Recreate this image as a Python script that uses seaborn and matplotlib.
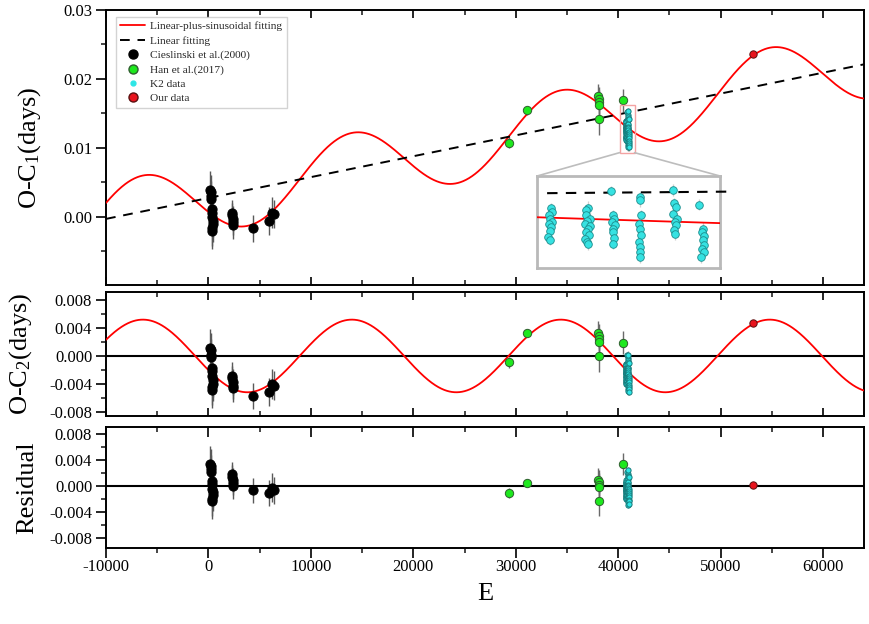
import numpy as np
import pandas as pd
import matplotlib
matplotlib.use("Agg")
import matplotlib.pyplot as plt
import seaborn as sns
from matplotlib.ticker import MultipleLocator, FormatStrFormatter
from matplotlib.patches import Rectangle, ConnectionPatch
from matplotlib.lines import Line2D, TICKDOWN

# ---------------- observed O-C1 timings (cycle E, O-C1 [d], 1-sigma error [d]) ----------------
ciesl_E = [200, 230, 260, 290, 320, 350, 380, 410, 440, 300, 340,
           2300, 2330, 2360, 2390, 2420,
           4350,
           5950, 6250, 6400]
ciesl_oc = [0.0039, 0.0036, 0.0030, 0.0026, 0.0011, 0.0006, -0.0001, -0.0006, -0.0011, -0.0016, -0.0020,
            0.0006, 0.0002, -0.0003, -0.0008, -0.0012,
            -0.0017,
            -0.0006, 0.0006, 0.0004]
ciesl_err = [0.0028, 0.0025, 0.0022, 0.0020, 0.0020, 0.0021, 0.0022, 0.0024, 0.0025, 0.0026, 0.0027,
             0.0019, 0.0018, 0.0018, 0.0019, 0.0020,
             0.0019,
             0.0020, 0.0022, 0.0021]

han_E = [29390, 31120, 38060, 38120, 38150, 38180, 38100, 40430]
han_oc = [0.01073, 0.01543, 0.01747, 0.01713, 0.01664, 0.01626, 0.01422, 0.01689]
han_err = [0.0008, 0.0006, 0.0018, 0.0017, 0.0017, 0.0018, 0.0023, 0.0017]

k2_E = [40730, 40732, 40726, 40729, 40733, 40727, 40731, 40728, 40725, 40729,
        40812, 40808, 40806, 40815, 40810, 40804, 40816, 40811, 40807, 40813, 40805, 40809, 40812,
        40862, 40866, 40868, 40864, 40870, 40866, 40867, 40869, 40865,
        40926, 40924, 40927, 40922, 40925, 40928, 40923, 40926, 40924, 40925,
        40998, 41000, 41003, 40998, 41005, 41001, 41004, 40999, 41002,
        41054, 41063, 41060, 41066, 41062, 41065, 41061, 41064, 41059]
k2_oc = [0.01386, 0.01360, 0.01333, 0.01307, 0.01281, 0.01262, 0.01241, 0.01210, 0.01163, 0.01137,
         0.01393, 0.01372, 0.01333, 0.01307, 0.01289, 0.01268, 0.01247, 0.01228, 0.01202, 0.01176, 0.01150, 0.01124, 0.01111,
         0.01522, 0.01333, 0.01307, 0.01281, 0.01255, 0.01228, 0.01202, 0.01158, 0.01105,
         0.01477, 0.01451, 0.01333, 0.01268, 0.01228, 0.01176, 0.01124, 0.01084, 0.01045, 0.01006,
         0.01530, 0.01425, 0.01399, 0.01346, 0.01307, 0.01281, 0.01255, 0.01215, 0.01189,
         0.01417, 0.01228, 0.01202, 0.01168, 0.01137, 0.01103, 0.01071, 0.01045, 0.01006]
k2_err = [0.0004, 0.0005, 0.0004, 0.0003, 0.0004, 0.0005, 0.0004, 0.0004, 0.0005, 0.0004,
          0.0005, 0.0004, 0.0004, 0.0005, 0.0003, 0.0004, 0.0004, 0.0005, 0.0004, 0.0004, 0.0005, 0.0004, 0.0005,
          0.0004, 0.0004, 0.0005, 0.0004, 0.0004, 0.0003, 0.0004, 0.0005, 0.0004,
          0.0004, 0.0005, 0.0004, 0.0004, 0.0005, 0.0004, 0.0004, 0.0005, 0.0004, 0.0005,
          0.0005, 0.0004, 0.0004, 0.0005, 0.0004, 0.0004, 0.0003, 0.0004, 0.0005,
          0.0004, 0.0005, 0.0004, 0.0004, 0.0005, 0.0004, 0.0005, 0.0004, 0.0005]

ours_E = [53170]
ours_oc = [0.02358]
ours_err = [0.0002]

# ---------------- fitted ephemeris terms ----------------
lin_c0, lin_c1 = 0.00272, 3.03e-7                         # linear term (days, days/cycle)
sin_amp, sin_per, sin_peak = 0.0052, 20400.0, 14000.0     # cyclic term


def linear(E):
    return lin_c0 + lin_c1 * np.asarray(E, dtype=float)


def cyclic(E):
    return sin_amp * np.cos(2 * np.pi * (np.asarray(E, dtype=float) - sin_peak) / sin_per)


def table(E, oc, err, source):
    d = pd.DataFrame({"E": E, "oc1": oc, "err": err})
    d["source"] = source
    d["oc2"] = d["oc1"] - linear(d["E"])
    d["res"] = d["oc2"] - cyclic(d["E"])
    return d


data = pd.concat([
    table(ciesl_E, ciesl_oc, ciesl_err, "Cieslinski et al.(2000)"),
    table(han_E, han_oc, han_err, "Han et al.(2017)"),
    table(k2_E, k2_oc, k2_err, "K2 data"),
    table(ours_E, ours_oc, ours_err, "Our data"),
], ignore_index=True)

styles = {
    "Cieslinski et al.(2000)": dict(color="black", edgecolor="black", s=44, ecolor="#5a5a5a"),
    "Han et al.(2017)": dict(color="#1ee81e", edgecolor="#2f5f2f", s=36, ecolor="#6a6a6a"),
    "K2 data": dict(color="#2ee6e6", edgecolor="#177a7a", s=14, ecolor="#9a9a9a"),
    "Our data": dict(color="#e8141e", edgecolor="#5a1010", s=28, ecolor="#6a6a6a"),
}

# ---------------- style ----------------
sns.set_theme(style="ticks")
plt.rcParams["font.family"] = ["Liberation Serif", "DejaVu Serif"]
plt.rcParams["axes.unicode_minus"] = False
plt.rcParams["mathtext.fontset"] = "custom"
plt.rcParams["mathtext.rm"] = "Liberation Serif"
plt.rcParams["mathtext.it"] = "Liberation Serif"

fig = plt.figure(figsize=(8.69, 6.24), dpi=100)
L, W = 0.122, 0.8722
ax1 = fig.add_axes([L, 0.5433, W, 0.4407])
ax2 = fig.add_axes([L, 0.3333, W, 0.1987])
ax3 = fig.add_axes([L, 0.1218, W, 0.1939])

grid = np.linspace(-10000, 64000, 1500)

for ax, col in [(ax1, "oc1"), (ax2, "oc2"), (ax3, "res")]:
    for src, st in styles.items():
        d = data[data["source"] == src]
        ax.errorbar(d["E"], d[col], yerr=d["err"], fmt="none", ecolor=st["ecolor"],
                    elinewidth=1.0, capsize=0, zorder=2)
    for src, st in styles.items():
        d = data[data["source"] == src]
        sns.scatterplot(data=d, x="E", y=col, ax=ax, color=st["color"], edgecolor=st["edgecolor"],
                        s=st["s"], linewidth=0.7, zorder=4, legend=False)

# fitted curves
sns.lineplot(x=grid, y=linear(grid) + cyclic(grid), ax=ax1, color="#ff0000", lw=1.3,
             estimator=None, zorder=3)
sns.lineplot(x=grid, y=linear(grid), ax=ax1, color="black", lw=1.4, estimator=None, zorder=3,
             linestyle=(0, (5, 4)))
sns.lineplot(x=grid, y=cyclic(grid), ax=ax2, color="#ff0000", lw=1.3, estimator=None, zorder=3)
ax2.axhline(0, color="black", lw=1.5, zorder=2.5)
ax3.axhline(0, color="black", lw=1.5, zorder=2.5)

# axes cosmetics
ylims = [(-0.0099, 0.0300), (-0.0086, 0.00915), (-0.0095, 0.0091)]
ymaj = [0.01, 0.004, 0.004]
ymin = [0.005, 0.002, 0.002]
yfmt = ["%.2f", "%.3f", "%.3f"]
ylabels = [r"O-C$_1$(days)", r"O-C$_2$(days)", "Residual"]
ylab_x = [-0.083, -0.095, -0.090]
for ax, yl, mj, mn, fm, lab, lx in zip([ax1, ax2, ax3], ylims, ymaj, ymin, yfmt, ylabels, ylab_x):
    ax.set_xlim(-10000, 64000)
    ax.set_ylim(*yl)
    ax.xaxis.set_major_locator(MultipleLocator(10000))
    ax.xaxis.set_minor_locator(MultipleLocator(5000))
    ax.yaxis.set_major_locator(MultipleLocator(mj))
    ax.yaxis.set_minor_locator(MultipleLocator(mn))
    ax.yaxis.set_major_formatter(FormatStrFormatter(fm))
    for sp in ax.spines.values():
        sp.set_linewidth(1.4)
        sp.set_color("black")
        sp.set_visible(True)
    ax.tick_params(axis="y", which="major", direction="out", length=7, width=1.2,
                   labelsize=12, pad=3, colors="black")
    ax.tick_params(axis="y", which="minor", direction="out", length=3.6, width=1.2)
    ax.tick_params(axis="x", which="major", direction="in", length=6, width=1.2,
                   top=True, bottom=True, labelbottom=False, labelsize=12, colors="black")
    ax.tick_params(axis="x", which="minor", direction="in", length=3.6, width=1.2,
                   top=True, bottom=True)
    ax.set_xlabel("")
    ax.set_ylabel(lab, fontsize=19, color="black")
    ax.yaxis.set_label_coords(lx, 0.5)

# bottom panel: outward ticks with labels on the lower edge, inward ticks on the upper edge
ax3.tick_params(axis="x", which="major", length=7, labelbottom=True, pad=8)
ax3.xaxis.set_major_formatter(FormatStrFormatter("%d"))
fig.canvas.draw()
for t in ax3.xaxis.get_major_ticks() + ax3.xaxis.get_minor_ticks():
    t.tick1line.set_marker(TICKDOWN)
ax3.set_xlabel("E", fontsize=19, color="black")
ax3.xaxis.set_label_coords(0.5, -0.29)

# legend
handles = [
    Line2D([], [], color="#ff0000", lw=1.3),
    Line2D([], [], color="black", lw=1.4, linestyle=(0, (5, 4))),
    Line2D([], [], ls="none", marker="o", ms=6.5, mfc="black", mec="black"),
    Line2D([], [], ls="none", marker="o", ms=6.5, mfc=styles["Han et al.(2017)"]["color"], mec="#2f5f2f"),
    Line2D([], [], ls="none", marker="o", ms=3.5, mfc=styles["K2 data"]["color"], mec=styles["K2 data"]["color"]),
    Line2D([], [], ls="none", marker="o", ms=6.5, mfc=styles["Our data"]["color"], mec="#5a1010"),
]
labels = ["Linear-plus-sinusoidal fitting", "Linear fitting", "Cieslinski et al.(2000)",
          "Han et al.(2017)", "K2 data", "Our data"]
leg = ax1.legend(handles, labels, loc="upper left", bbox_to_anchor=(0.013, 0.975),
                 borderaxespad=0, fontsize=8.2, frameon=True, fancybox=False,
                 handlelength=2.2, labelspacing=0.38, borderpad=0.4, handletextpad=0.4)
leg.get_frame().set_edgecolor("#c8c8c8")
leg.get_frame().set_linewidth(1.0)

# zoom window on the K2 campaign
rect_x0, rect_x1, rect_y0, rect_y1 = 40140, 41600, 0.0093, 0.0162
ax1.add_patch(Rectangle((rect_x0, rect_y0), rect_x1 - rect_x0, rect_y1 - rect_y0,
                        fill=False, edgecolor="#f4a3a3", lw=1.0, zorder=5))

axins = fig.add_axes([0.618, 0.5705, 0.2106, 0.1474])
axins.set_xlim(40700, 41100)
axins.set_ylim(0.0092, 0.0164)
k2 = data[data["source"] == "K2 data"]
axins.errorbar(k2["E"], k2["oc1"], yerr=k2["err"], fmt="none", ecolor="#cfcfcf",
               elinewidth=0.9, capsize=0, zorder=2)
ins_grid = np.linspace(40700, 41100, 100)
sns.lineplot(x=ins_grid, y=linear(ins_grid) + cyclic(ins_grid), ax=axins, color="#ff0000",
             lw=1.3, estimator=None, zorder=3)
dash_grid = np.linspace(40722, 41115, 50)
sns.lineplot(x=dash_grid, y=linear(dash_grid), ax=axins, color="black", lw=1.5,
             estimator=None, zorder=3, linestyle=(0, (5, 4)), clip_on=False)
sns.scatterplot(data=k2, x="E", y="oc1", ax=axins, color="#36e2e2", edgecolor="#1c8c8c",
                s=30, linewidth=0.6, zorder=4, legend=False)
axins.set_xticks([])
axins.set_yticks([])
axins.set_xlabel("")
axins.set_ylabel("")
for sp in axins.spines.values():
    sp.set_edgecolor("#b9b9b9")
    sp.set_linewidth(2.0)

for (xa, xb) in [(rect_x0, 0.0), (rect_x1, 1.0)]:
    con = ConnectionPatch(xyA=(xa, rect_y0), coordsA=ax1.transData,
                          xyB=(xb, 1.0), coordsB=axins.transAxes,
                          color="#bdbdbd", lw=1.2)
    fig.add_artist(con)

fig.savefig("out.png", dpi=100)
